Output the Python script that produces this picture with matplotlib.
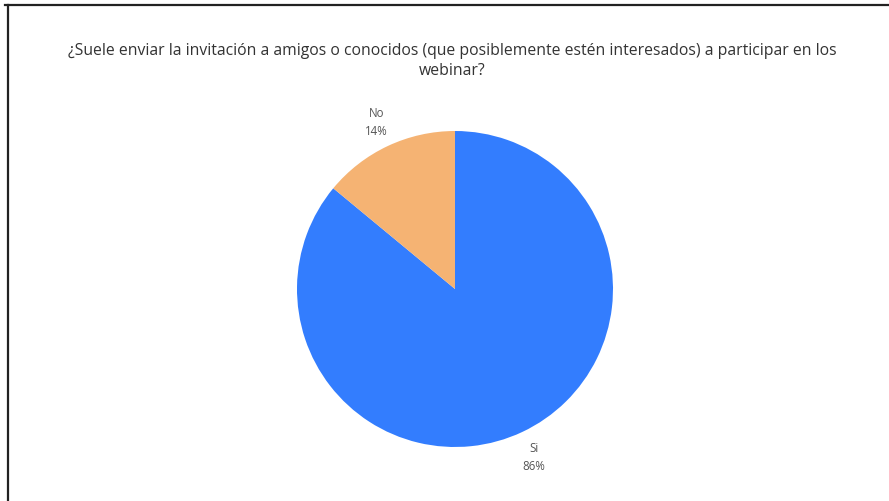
import matplotlib
matplotlib.use("Agg")
import matplotlib.pyplot as plt
from matplotlib.lines import Line2D

title = "¿Suele enviar la invitación a amigos o conocidos (que posiblemente estén interesados) a participar en los\nwebinar?"
categories = ["Si", "No"]
values = [86, 14]
colors = ["#337dfe", "#f5b373"]

W, H = 889, 502
fig = plt.figure(figsize=(W / 100, H / 100), dpi=100)
fig.patch.set_facecolor("white")

cx, cy, r = 455, 290, 158
ax = fig.add_axes([(cx - r) / W, (H - cy - r) / H, 2 * r / W, 2 * r / H])
wedges, texts = ax.pie(values, colors=colors, startangle=90, counterclock=False,
                       labels=[f"{c}\n{v}%" for c, v in zip(categories, values)],
                       labeldistance=1.17, radius=1.0,
                       textprops=dict(fontsize=8.3, color="#555555", family="Open Sans",
                                      ha="center", va="center", linespacing=1.45))
ax.set_xlim(-1, 1)
ax.set_ylim(-1, 1)
ax.set_aspect("equal")
ax.axis("off")

fig.text(452 / W, 1 - 61 / H, title, ha="center", va="center", fontsize=11.3,
         family="Open Sans", color="#333333", linespacing=1.4)

# frame lines
fig.add_artist(Line2D([5 / W, 1], [1 - 6 / H, 1 - 6 / H], color="#222222", lw=1.6,
                      transform=fig.transFigure))
fig.add_artist(Line2D([8 / W, 8 / W], [0, 1 - 6 / H], color="#222222", lw=1.6,
                      transform=fig.transFigure))

fig.savefig("out.png", dpi=100, facecolor="white")
